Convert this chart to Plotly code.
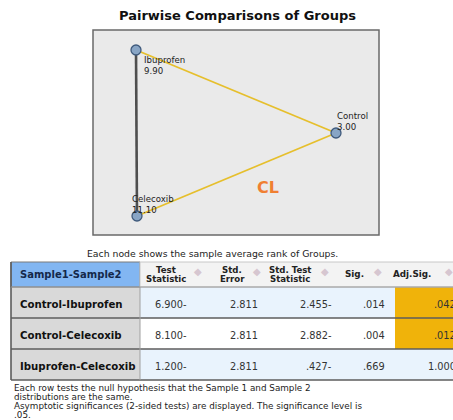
import plotly.graph_objects as go

# ---------------- data ----------------
TITLE = "Pairwise Comparisons of Groups"
groups = ["Ibuprofen", "Control", "Celecoxib"]
mean_ranks = [9.90, 3.00, 11.10]
field_label = "CL"
caption = "Each node shows the sample average rank of Groups."

pairs = ["Control-Ibuprofen", "Control-Celecoxib", "Ibuprofen-Celecoxib"]
test_stat = ["6.900-", "8.100-", "1.200-"]
std_error = ["2.811", "2.811", "2.811"]
std_test_stat = ["2.455-", "2.882-", ".427-"]
sig = [".014", ".004", ".669"]
adj_sig = [".042", ".012", "1.000"]
headers = [["Sample1-Sample2"], ["Test", "Statistic"], ["Std.", "Error"],
           ["Std. Test", "Statistic"], ["Sig."], ["Adj.Sig."]]
footnotes = [
    "Each row tests the null hypothesis that the Sample 1 and Sample 2",
    "distributions are the same.",
    "Asymptotic significances (2-sided tests) are displayed. The significance level is",
    ".05.",
]
ALPHA = 0.05

# ---------------- layout (pixel geometry) ----------------
W, H = 453, 420
FR = "DejaVu Sans"
node_xy = {"Ibuprofen": (136, 50), "Control": (336, 133), "Celecoxib": (137, 216)}
label_off = {"Ibuprofen": (6, 15), "Control": (-1, -12), "Celecoxib": (-7, -12)}
box = (93, 30, 379, 235)
col_edges = [11, 140, 212, 262, 338, 395, 470]
row_edges = [262, 287, 318, 349, 380]
hdr_cx = [18, 166, 232, 290, 354, 412]
hdr_diamond = [None, 198, 257, 325, 378, 449]
val_right = [None, 189, 260, 334, 387, 458]

C_YEL = "#e6bf2c"
C_DARK = "#4f4f4f"
C_ORANGE = "#f0b30a"
C_BLUEHDR = "#82b6f2"
C_COL1 = "#d9d9d9"
C_PALE = "#e9f3fd"

fig = go.Figure()
shapes = []
ann = []

def text(x, y, s, size, color="#111", xanchor="left", bold=False, family=FR, yanchor="middle"):
    xs = 0
    if x > W - 2:
        xs = x - (W - 2)
        x = W - 2
    ann.append(dict(x=x, y=y, xref="x", yref="y", text=("<b>%s</b>" % s) if bold else s,
                    showarrow=False, xanchor=xanchor, yanchor=yanchor, xshift=xs,
                    align="left" if xanchor == "left" else "center",
                    font=dict(family=family, size=size, color=color)))

# title
text(237, 15, TITLE, 13, "#111", "center", bold=True)

# graph box
shapes.append(dict(type="rect", xref="x", yref="y", x0=box[0], y0=box[1], x1=box[2], y1=box[3],
                   fillcolor="#eaeaea", line=dict(color="#6a6a6a", width=1.5), layer="below"))

# edges (colour from adjusted significance)
for p, a in zip(pairs, adj_sig):
    g1, g2 = p.split("-")
    x1, y1 = node_xy[g1]
    x2, y2 = node_xy[g2]
    significant = float(a) < ALPHA
    fig.add_trace(go.Scatter(x=[x1, x2], y=[y1, y2], mode="lines", hoverinfo="skip",
                             line=dict(color=C_YEL if significant else C_DARK,
                                       width=1.8 if significant else 2.6),
                             showlegend=False))

# nodes
fig.add_trace(go.Scatter(x=[node_xy[g][0] for g in groups], y=[node_xy[g][1] for g in groups],
                         mode="markers", showlegend=False, text=groups,
                         marker=dict(size=10, color="#88a5c5", line=dict(color="#3f5a7c", width=1.3))))

# node labels: name + mean rank (one text block each)
for g, r in zip(groups, mean_ranks):
    x, y = node_xy[g]
    dx, dy = label_off[g]
    text(x + dx, y + dy, "%s<br>%.2f" % (g, r), 8.6, "#222")

text(268, 187, field_label, 16, "#f07f32", "center", bold=True)

text(212, 253, caption, 9.3, "#222", "center")

# ---------------- table ----------------
nrows = len(pairs)
shapes.append(dict(type="rect", xref="x", yref="y", x0=col_edges[0], x1=col_edges[1],
                   y0=row_edges[0], y1=row_edges[1], fillcolor=C_BLUEHDR,
                   line=dict(color="#7a7a7a", width=1)))
shapes.append(dict(type="rect", xref="x", yref="y", x0=col_edges[1], x1=col_edges[-1],
                   y0=row_edges[0], y1=row_edges[1], fillcolor="#f3f3f3",
                   line=dict(color="#c8c8c8", width=1)))
for i, (cx, h) in enumerate(zip(hdr_cx, headers)):
    ymid = (row_edges[0] + row_edges[1]) / 2
    if i == 0:
        text(cx, ymid, h[0], 10, "#14284a", "left", bold=True)
    elif len(h) == 2:
        text(cx, ymid - 4.5, h[0], 8.6, "#222", "center", bold=True)
        text(cx, ymid + 4.5, h[1], 8.6, "#222", "center", bold=True)
    else:
        text(cx, ymid - 1, h[0], 8.8, "#222", "center", bold=True)
    if hdr_diamond[i] is not None:
        text(hdr_diamond[i], ymid - 3, "\u25c6", 10, "#d6c6d0", "center")

cols = [pairs, test_stat, std_error, std_test_stat, sig, adj_sig]
for r in range(nrows):
    y0, y1 = row_edges[r + 1], row_edges[r + 2]
    ym = (y0 + y1) / 2 + 1.5
    body_fill = C_PALE if r % 2 == 0 else "#ffffff"
    for c in range(6):
        if c == 0:
            fill = C_COL1
        elif c == 5 and float(adj_sig[r]) < ALPHA:
            fill = C_ORANGE
        else:
            fill = body_fill
        shapes.append(dict(type="rect", xref="x", yref="y", x0=col_edges[c], x1=col_edges[c + 1],
                           y0=y0, y1=y1, fillcolor=fill, line=dict(width=0), layer="below"))
        if c == 0:
            text(18, ym, cols[c][r], 10.2, "#111", "left", bold=True)
        else:
            text(val_right[c], ym, cols[c][r], 9.8, "#333", "right")
    shapes.append(dict(type="line", xref="x", yref="y", x0=col_edges[0], x1=col_edges[-1],
                       y0=y1, y1=y1, line=dict(color="#5c5c5c", width=1.6)))
shapes.append(dict(type="line", xref="x", yref="y", x0=col_edges[0], x1=col_edges[0],
                   y0=row_edges[0], y1=row_edges[-1], line=dict(color="#5c5c5c", width=1.6)))
shapes.append(dict(type="line", xref="x", yref="y", x0=col_edges[1], x1=col_edges[1],
                   y0=row_edges[1], y1=row_edges[-1], line=dict(color="#a0a0a0", width=1)))
shapes.append(dict(type="line", xref="x", yref="y", x0=col_edges[0], x1=col_edges[-1],
                   y0=row_edges[1], y1=row_edges[1], line=dict(color="#9a9a9a", width=1)))

for k, line in enumerate(footnotes):
    text(12, 388 + 9 * k, line, 8.8, "#222", "left")

fig.update_layout(
    width=W, height=H, margin=dict(l=0, r=0, t=0, b=0),
    paper_bgcolor="white", plot_bgcolor="white",
    xaxis=dict(range=[0, W], visible=False, fixedrange=True),
    yaxis=dict(range=[H, 0], visible=False, fixedrange=True),
    shapes=shapes, annotations=ann, showlegend=False,
)
fig.write_html("out.html", config={"displayModeBar": False},
               post_script="document.body.style.margin='0px';document.body.style.overflow='hidden';")
